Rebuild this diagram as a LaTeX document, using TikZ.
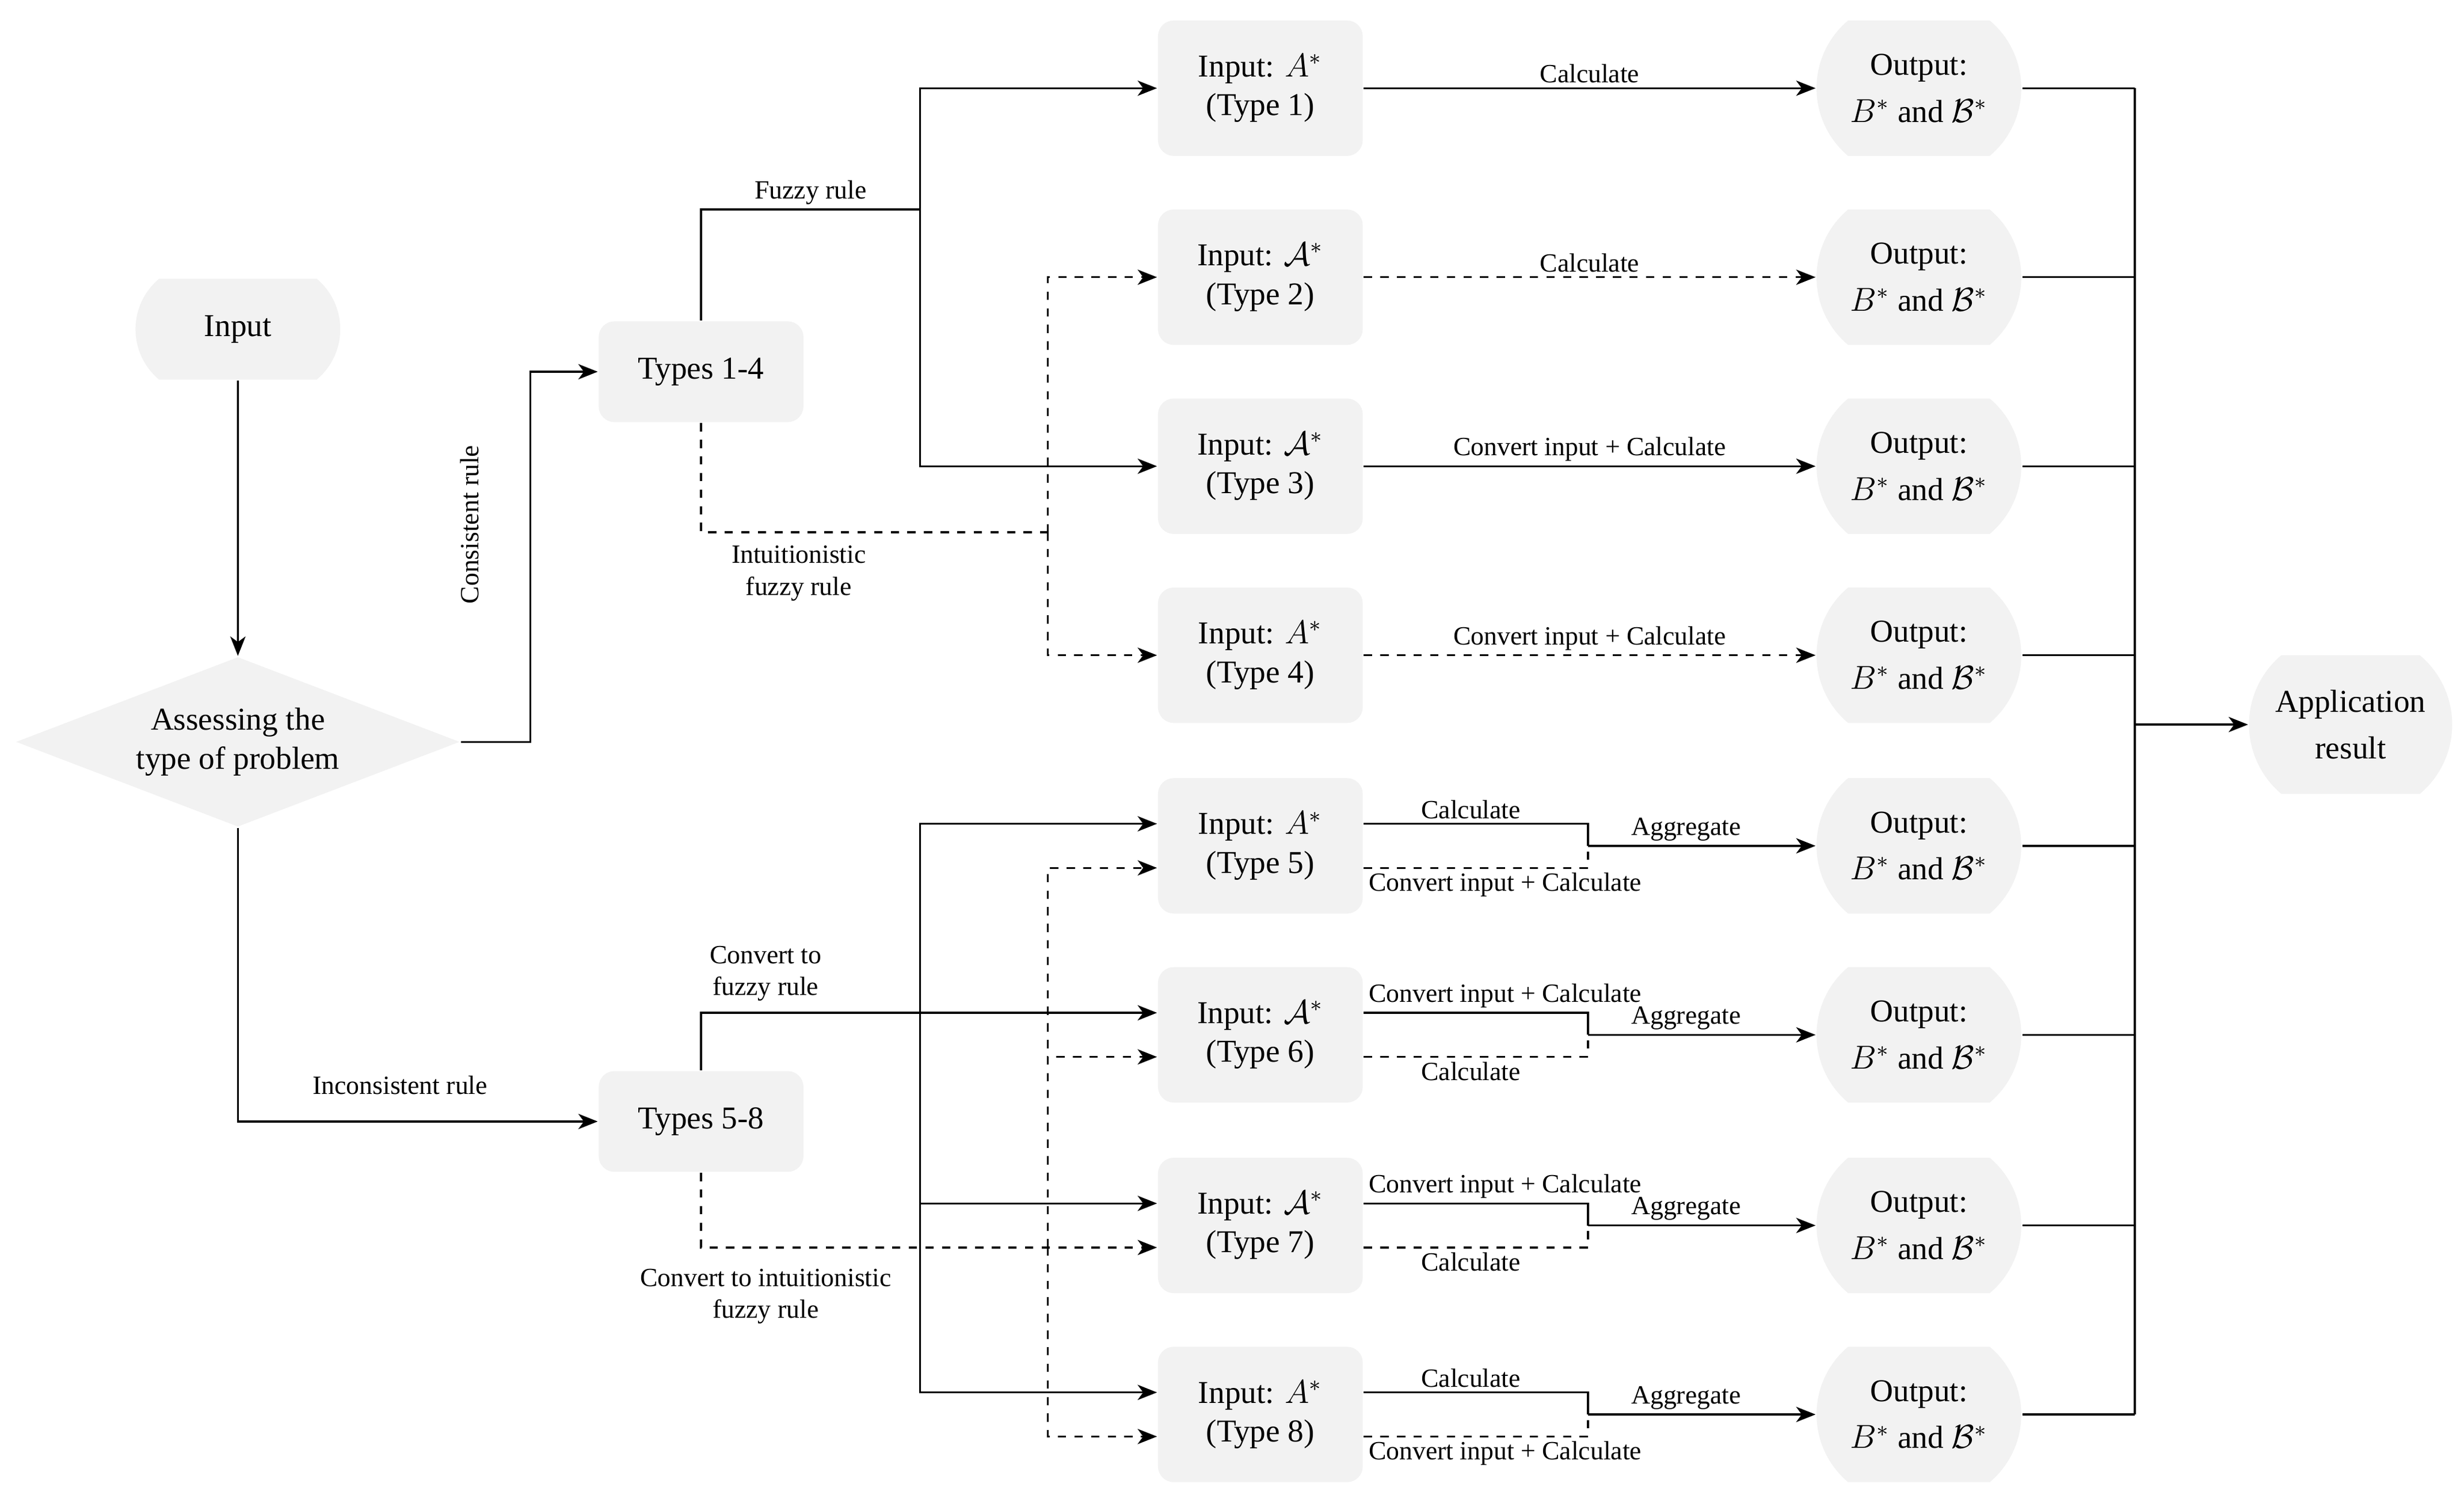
\documentclass[tikz,border=0pt]{standalone}
\usepackage{fontspec}
\setmainfont{Liberation Serif}
\usetikzlibrary{calc,shapes.geometric,shapes.misc,arrows.meta}

\tikzset{
  base/.style={fill=gray!10, draw=none, align=center, inner sep=0pt, font=\fontsize{11.5}{14}\selectfont},
  box/.style={base, rounded corners=0.2cm, minimum width=2.6cm, minimum height=1.72cm},
  term/.style={base, rounded rectangle, rounded rectangle arc length=100, minimum width=2.6cm, minimum height=1.72cm},
  lbl/.style={align=center, inner sep=1.5pt, font=\fontsize{9.5}{11.5}\selectfont},
}

\begin{document}
\begin{tikzpicture}[x=0.02cm, y=-0.02cm, line width=0.7pt, >={Stealth[length=7pt,width=5.5pt,inset=2pt]}]
    \useasboundingbox (0,0) rectangle (1564,949);

    % left part
    \node[term, minimum height=1.28cm] (inp) at (151,209) {Input};
    \node[base, diamond, shape aspect=2.6, minimum width=5.64cm, minimum height=2.16cm] (ass) at (151,471) {Assessing the\\type of problem};
    \node[box, minimum height=1.28cm] (t14) at (445,236) {Types 1-4};
    \node[box, minimum height=1.28cm] (t58) at (445,712) {Types 5-8};

    % inputs and outputs
    \foreach \i/\y/\a in {1/56/A, 2/176/\mathcal{A}, 3/296/\mathcal{A}, 4/416/A, 5/537/A, 6/657/\mathcal{A}, 7/778/\mathcal{A}, 8/898/A} {
        \node[box] (in\i) at (800,\y) {Input: $\a^*$\\(Type \i)};
        \node[term] (out\i) at (1218,\y) {Output:\\[3pt]$B^*$ and $\mathcal{B}^*$};
        \coordinate (in\i u) at ($(in\i.west)+(0,-14)$);
        \coordinate (in\i l) at ($(in\i.west)+(0,14)$);
        \coordinate (in\i ue) at ($(in\i.east)+(0,-14)$);
        \coordinate (in\i le) at ($(in\i.east)+(0,14)$);
    }
    \node[term, minimum width=2.58cm, minimum height=1.76cm] (app) at (1492,460) {Application\\[3pt]result};

    \draw[->] (inp) -- (ass);
    \draw[->] (ass.east) -- ++(44,0) |- (t14.west);
    \node[lbl, rotate=90] (lcons) at (298,333) {Consistent rule};
    \draw[->] (ass.south) |- (t58.west);
    \node[lbl] (lincons) at (254,689) {Inconsistent rule};

    % types 1-4
    \coordinate (f1) at (584,133);
    \coordinate (g1) at (665,338);
    \draw (t14.north) |- node[lbl, above, pos=0.75] {Fuzzy rule} (f1);
    \draw[->] (f1) |- (in1.west);
    \draw[->] (f1) |- (in3.west);
    \draw[dashed] (t14.south) |- (g1);
    \draw[dashed, ->] (g1) |- (in2.west);
    \draw[dashed, ->] (g1) |- (in4.west);
    \node[lbl] (lif) at (507,364) {Intuitionistic\\fuzzy rule};

    % types 5-8
    \coordinate (f2) at (584,643);
    \coordinate (g2) at (665,792);
    \draw[->] (t58.north) |- (in6u);
    \draw[->] (f2) |- (in5u);
    \draw[->] (f2) |- (in7u);
    \draw[->] (f2) |- (in8u);
    \draw[dashed, ->] (t58.south) |- (in7l);
    \draw[dashed, ->] (g2) |- (in5l);
    \draw[dashed, ->] (g2) |- (in6l);
    \draw[dashed, ->] (g2) |- (in8l);
    \node[lbl] (lcf) at (486,618) {Convert to\\fuzzy rule};
    \node[lbl] (lcif) at (486,823) {Convert to intuitionistic\\fuzzy rule};

    % calculations
    \draw[->] (in1) -- node[lbl, above] {Calculate} (out1);
    \draw[->, dashed] (in2) -- node[lbl, above] {Calculate} (out2);
    \draw[->] (in3) -- node[lbl, above] {Convert input + Calculate} (out3);
    \draw[->, dashed] (in4) -- node[lbl, above] {Convert input + Calculate} (out4);

    \foreach \i in {5,...,8} {
        \coordinate (m\i) at (1008,0 |- out\i);
        \draw (in\i ue) -| (m\i);
        \draw[dashed] (in\i le) -| (m\i);
        \draw[->] (m\i) -- node[lbl, above, xshift=-0.2cm] {Aggregate} (out\i);
    }
    \node[lbl, above] at ($(in5ue)+(68,0)$) {Calculate};
    \node[lbl, below right] at ($(in5le)+(0,0)$) {Convert input + Calculate};
    \node[lbl, above right] at ($(in6ue)+(0,0)$) {Convert input + Calculate};
    \node[lbl, below] at ($(in6le)+(68,0)$) {Calculate};
    \node[lbl, above right] at ($(in7ue)+(0,0)$) {Convert input + Calculate};
    \node[lbl, below] at ($(in7le)+(68,0)$) {Calculate};
    \node[lbl, above] at ($(in8ue)+(68,0)$) {Calculate};
    \node[lbl, below right] at ($(in8le)+(0,0)$) {Convert input + Calculate};

    % collecting results
    \coordinate (bus) at (1355,460);
    \foreach \i in {1,...,8} {
        \draw (out\i.east) -- (bus |- out\i.east);
    }
    \draw (bus |- out1.east) -- (bus |- out8.east);
    \draw[->] (bus) -- (app);
\end{tikzpicture}
\end{document}
